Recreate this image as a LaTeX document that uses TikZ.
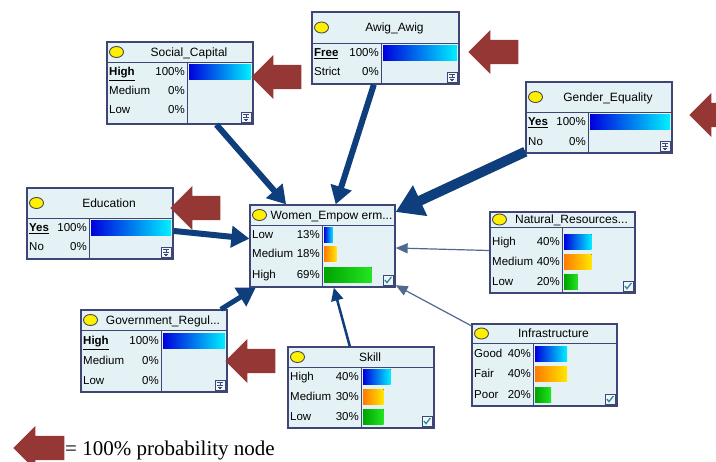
\documentclass[tikz,border=0pt]{standalone}
\usepackage{fontspec}
\setmainfont{Liberation Serif}
\newfontfamily\netfont{Liberation Sans}
\usetikzlibrary{arrows.meta,fit,shapes.geometric,shapes.arrows}
\definecolor{netframe}{HTML}{3F4676}
\definecolor{netfill}{HTML}{E4F2F6}
\definecolor{arcblue}{HTML}{0E3E7C}
\definecolor{arcgray}{HTML}{4F6A8E}
\definecolor{markred}{HTML}{953735}
\definecolor{bulbyellow}{HTML}{FFF000}
\definecolor{tickteal}{HTML}{2A8A9A}
\definecolor{barblueA}{HTML}{0000DD}
\definecolor{barblueB}{HTML}{00F0FF}
\definecolor{barorangeA}{HTML}{FF7A00}
\definecolor{barorangeB}{HTML}{FFE800}
\definecolor{bargreenA}{HTML}{00A300}
\definecolor{bargreenB}{HTML}{22E622}

\tikzset{
  netbox/.style={draw=netframe, line width=1.3pt, fill=netfill, inner sep=0pt},
  netline/.style={draw=netframe, line width=0.8pt},
  bulb/.style={ellipse, draw=black!70, fill=bulbyellow, line width=0.9pt,
    minimum width=14pt, minimum height=11pt, inner sep=0pt},
  titletext/.style={font=\netfont\fontsize{12}{12}\selectfont, inner sep=0pt},
  rowtext/.style={font=\netfont\fontsize{11.5}{12}\selectfont, inner sep=0pt},
  bluebar/.style={left color=barblueA, right color=barblueB},
  orangebar/.style={left color=barorangeA, right color=barorangeB},
  greenbar/.style={left color=bargreenA, right color=bargreenB},
  iconbox/.style={draw=netframe, fill=netfill!60!white, line width=0.9pt,
    minimum size=10pt, inner sep=0pt},
  redmark/.style={single arrow, shape border rotate=180, fill=markred,
    minimum height=50pt, minimum width=44pt, inner xsep=0pt, inner ysep=12pt,
    single arrow head extend=10pt, single arrow tip angle=90},
  bigarc/.style={draw=arcblue, line width=6pt, -{Triangle[length=18pt,width=21pt]}},
  hugearc/.style={draw=arcblue, line width=10pt, -{Triangle[length=27pt,width=32pt]}},
  midarc/.style={draw=arcblue, line width=2.5pt, -{Triangle[length=13pt,width=12pt]}},
  thinarc/.style={draw=arcgray, line width=1.2pt, -{Triangle[length=12pt,width=10pt]}}
}

% name, left, top, right, bottom, title line, column, title
\newcommand{\netbox}[8]{%
  \gdef\bxl{#2}\gdef\bxr{#4}\gdef\bxc{#7}\gdef\bxb{#5}%
  \node[netbox, fit={(#2,#3) (#4,#5)}] (#1) {};
  \draw[netline] (#2,#6) -- (#4,#6) (#7,#6) -- (#7,#5);
  \node[bulb] (#1-bulb) at ({#2+9.5},{(#3+#6)/2}) {};
  \node[titletext, anchor=base] (#1-title) at ({(#2+18+#4)/2},{(#3+#6)/2+4.3}) {#8};
}
% name, row y, label, percent, bar style
\newcommand{\netrow}[5]{%
  \node[rowtext, anchor=base west] (#1) at ({\bxl+2},{#2+4}) {#3};
  \node[rowtext, anchor=base east] (#1-pct) at ({\bxc-2},{#2+4}) {#4\%};
  \ifnum#4>0\relax
    \fill[#5] ({\bxc+2},{#2-7.5}) rectangle ({\bxc+2+(\bxr-\bxc-4)*#4/100},{#2+7.5});
  \fi
}
\newcommand{\pinicon}[1]{%
  \node[iconbox] (#1) at ({\bxr-7},{\bxb-7}) {};
  \draw[netframe, line width=0.5pt]
    ([shift={(-3,-2.5)}]#1.center) -- ([shift={(3,-2.5)}]#1.center)
    ([shift={(0,-2.5)}]#1.center) -- ([shift={(0,0.5)}]#1.center)
    ([shift={(-3,0.5)}]#1.center) -- ([shift={(3,0.5)}]#1.center)
    ([shift={(-2,2)}]#1.center) -- ([shift={(2,2)}]#1.center)
    ([shift={(-1,3.3)}]#1.center) -- ([shift={(1,3.3)}]#1.center);
}
\newcommand{\tickicon}[1]{%
  \node[iconbox] (#1) at ({\bxr-7},{\bxb-7}) {};
  \draw[tickteal, line width=1.3pt]
    ([shift={(-3.2,0)}]#1.center) -- ([shift={(-1,2.6)}]#1.center) -- ([shift={(3.4,-3)}]#1.center);
}

\begin{document}
\begin{tikzpicture}[x=1pt, y=-1pt]
  \fill[white] (0,0) rectangle (716,462);
  \useasboundingbox (0,0) rectangle (716,462);

  \netbox{soc}{107}{42}{253}{124}{62}{187}{Social\_Capital}
  \netrow{soc-high}{72}{\underline{\textbf{High}}}{100}{bluebar}
  \netrow{soc-med}{91}{Medium}{0}{bluebar}
  \netrow{soc-low}{110}{Low}{0}{bluebar}
  \pinicon{soc-icon}

  \netbox{awig}{312}{12}{459}{84}{43}{381}{Awig\_Awig}
  \netrow{awig-free}{53}{\underline{\textbf{Free}}}{100}{bluebar}
  \netrow{awig-strict}{72}{Strict}{0}{bluebar}
  \pinicon{awig-icon}

  \netbox{gen}{526}{82}{672}{153}{112}{588}{Gender\_Equality}
  \netrow{gen-yes}{122}{\underline{\textbf{Yes}}}{100}{bluebar}
  \netrow{gen-no}{142}{No}{0}{bluebar}
  \pinicon{gen-icon}

  \netbox{edu}{27}{188}{173}{259}{218}{89}{Education}
  \netrow{edu-yes}{228}{\underline{\textbf{Yes}}}{100}{bluebar}
  \netrow{edu-no}{247}{No}{0}{bluebar}
  \pinicon{edu-icon}

  \netbox{wom}{250}{205}{395}{287}{225}{322}{Women\_Empow erm...}
  \netrow{wom-low}{235}{Low}{13}{bluebar}
  \netrow{wom-med}{254}{Medium}{18}{orangebar}
  \netrow{wom-high}{275}{High}{69}{greenbar}
  \tickicon{wom-icon}

  \netbox{nat}{490}{212}{635}{293}{227}{562}{Natural\_Resources...}
  \netrow{nat-high}{242}{High}{40}{bluebar}
  \netrow{nat-med}{262}{Medium}{40}{orangebar}
  \netrow{nat-low}{282}{Low}{20}{greenbar}
  \tickicon{nat-icon}

  \netbox{gov}{81}{310}{227}{392}{330}{161}{Government\_Regul...}
  \netrow{gov-high}{341}{\underline{\textbf{High}}}{100}{bluebar}
  \netrow{gov-med}{361}{Medium}{0}{bluebar}
  \netrow{gov-low}{381}{Low}{0}{bluebar}
  \pinicon{gov-icon}

  \netbox{ski}{288}{347}{434}{428}{367}{361}{Skill}
  \netrow{ski-high}{377}{High}{40}{bluebar}
  \netrow{ski-med}{397}{Medium}{30}{orangebar}
  \netrow{ski-low}{417}{Low}{30}{greenbar}
  \tickicon{ski-icon}

  \netbox{inf}{472}{324}{617}{406}{343}{533}{Infrastructure}
  \netrow{inf-good}{354}{Good}{40}{bluebar}
  \netrow{inf-fair}{374}{Fair}{40}{orangebar}
  \netrow{inf-poor}{395}{Poor}{20}{greenbar}
  \tickicon{inf-icon}

  \draw[bigarc] (soc) -- (wom);
  \draw[bigarc] (awig) -- (wom);
  \draw[hugearc] (gen) -- (wom);
  \draw[bigarc] (edu) -- (wom);
  \draw[bigarc, line width=5pt] (gov) -- (wom);
  \draw[midarc] (ski) -- (wom);
  \draw[thinarc] (nat) -- (wom);
  \draw[thinarc] (inf) -- (wom);

  \node[redmark, anchor=tip] (mark-soc) at (251,77) {};
  \node[redmark, anchor=tip] (mark-awig) at (468,52) {};
  \node[redmark, anchor=tip] (mark-gen) at (689,115) {};
  \node[redmark, anchor=tip] (mark-edu) at (170,208) {};
  \node[redmark, anchor=tip] (mark-gov) at (225,361) {};
  \node[redmark, anchor=tip, minimum height=51pt] (mark-key) at (13,448) {};
  \node[anchor=base west, inner sep=0pt, font=\fontsize{21}{21}\selectfont]
    (key) at (65,456) {= 100\% probability node};
\end{tikzpicture}
\end{document}
